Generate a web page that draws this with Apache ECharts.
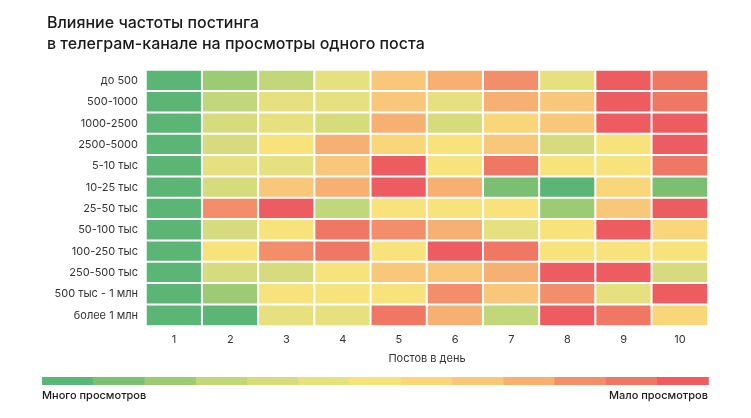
<!DOCTYPE html><html><head><meta charset="utf-8">
<script src="https://cdn.jsdelivr.net/npm/echarts@6/dist/echarts.min.js"></script>
<style>html,body{margin:0;background:#fff}#c{width:751px;height:418px}</style></head><body><div id="c"></div>
<script>
const xCats=['1','2','3','4','5','6','7','8','9','10'];
const yCats=['до 500','500-1000','1000-2500','2500-5000','5-10 тыс','10-25 тыс','25-50 тыс','50-100 тыс','100-250 тыс','250-500 тыс','500 тыс - 1 млн','более 1 млн'];
const levels=[
[0,2,3,5,8,9,10,5,12,11],
[0,3,5,5,8,5,9,8,12,11],
[0,4,5,4,9,4,7,8,12,12],
[0,4,6,9,7,6,8,4,6,12],
[0,5,5,8,12,6,11,6,6,11],
[0,4,8,9,12,9,1,0,7,1],
[0,10,12,3,6,6,6,2,8,12],
[0,4,6,11,10,9,5,6,12,7],
[0,6,10,11,6,12,11,6,6,6],
[0,4,4,6,8,8,9,12,12,4],
[0,2,6,6,6,10,8,10,5,12],
[0,0,5,5,11,9,3,12,11,7]];
const palette=['#5bb574','#7bbf72','#9ccb74','#c2d67a','#d6dc7e','#e6e07e','#f8e27c','#f9d67a','#f9c77a','#f6b072','#f28f6a','#ef7865','#ec5c60'];
const data=[];
levels.forEach((r,yi)=>r.forEach((v,xi)=>data.push([xi,yi,v])));
const legendRects=palette.map((c,i)=>({type:'rect',left:42+i*51.25,top:377,shape:{width:51.8,height:8},style:{fill:c}}));
const ch=echarts.init(document.getElementById('c'));
ch.setOption({
 animation:false,
 textStyle:{fontFamily:'Inter'},
 title:{text:'Влияние частоты постинга\nв телеграм-канале на просмотры одного поста',left:42,top:8,textStyle:{fontSize:16,fontWeight:500,color:'#1a1a1a',lineHeight:21,fontFamily:'Inter'}},
 grid:{left:146,right:43,top:70,bottom:92},
 xAxis:{type:'category',data:xCats,axisLine:{show:false},axisTick:{show:false},splitArea:{show:false},
  axisLabel:{color:'#333',fontSize:11,margin:8},name:'Постов в день',nameLocation:'middle',nameGap:27,nameTextStyle:{color:'#333',fontSize:11}},
 yAxis:{type:'category',data:yCats,inverse:true,axisLine:{show:false},axisTick:{show:false},axisLabel:{color:'#333',fontSize:11,margin:8}},
 visualMap:{type:'piecewise',show:false,pieces:palette.map((c,i)=>({value:i,color:c}))},
 series:[{type:'heatmap',data:data,itemStyle:{borderColor:'#fff',borderWidth:2},emphasis:{disabled:true}}],
 graphic:legendRects.concat([
  {type:'text',left:42,top:390,style:{text:'Много просмотров',fontSize:11,fontWeight:500,fill:'#1a1a1a',fontFamily:'Inter'}},
  {type:'text',right:43,top:390,style:{text:'Мало просмотров',fontSize:11,fontWeight:500,fill:'#1a1a1a',fontFamily:'Inter'}}])
});
</script></body></html>
